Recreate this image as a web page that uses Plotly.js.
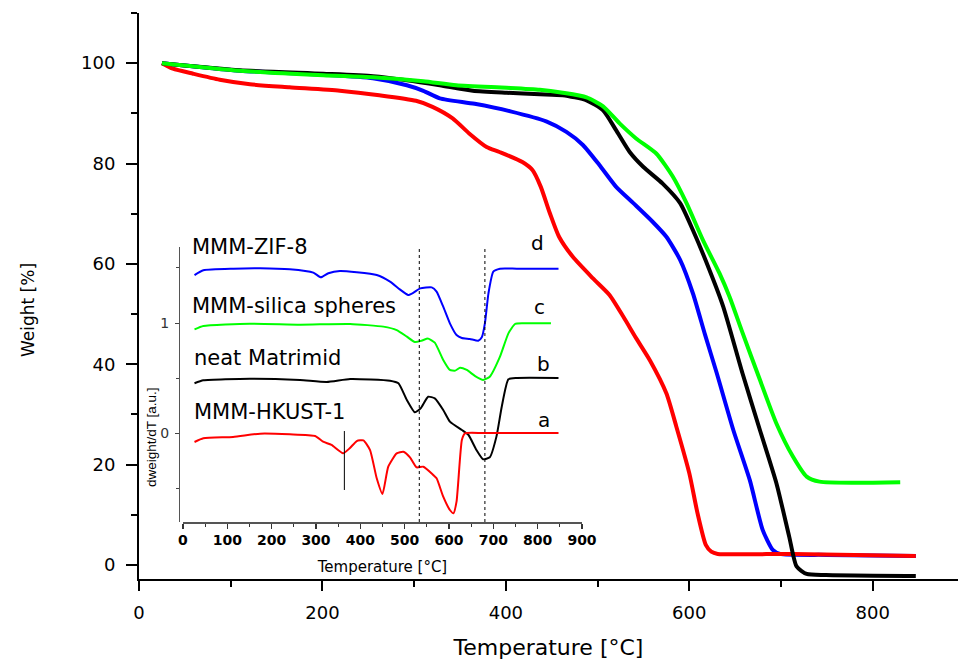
<!DOCTYPE html>
<html>
<head>
<meta charset="utf-8">
<script src="https://cdn.plot.ly/plotly-3.0.1.min.js"></script>
<style>html,body{margin:0;padding:0;background:#fff;}#chart{width:958px;height:669px;}</style>
</head>
<body>
<div id="chart"></div>
<script>
// ---------- Main TGA curves: temperature [°C] and weight [%] ----------
const redT   = [25, 37, 59, 88, 121, 164, 219, 262, 302, 320, 342, 360, 379, 393, 418, 429, 438, 448, 458, 473, 495, 513, 528, 542, 557, 575, 586, 600, 609, 618, 624, 631, 713, 847];
const redW   = [100, 98.9, 97.9, 96.7, 95.8, 95.2, 94.5, 93.6, 92.5, 91.3, 89, 86, 83.3, 82.3, 80.3, 78.7, 75.4, 70.1, 65.4, 61.4, 57.1, 53.8, 49.5, 45.2, 40.8, 34.2, 27.5, 18.3, 10.3, 4.0, 2.65, 2.2, 2.2, 1.8];
const blueT  = [25, 110, 201, 255, 292, 310, 328, 366, 405, 444, 466, 484, 502, 520, 539, 560, 575, 590, 604, 617, 630, 648, 666, 680, 691, 699, 750, 847];
const blueW  = [100, 98.5, 97.7, 97.0, 95.6, 94.5, 93.0, 91.9, 90.4, 88.4, 86.3, 83.7, 79.7, 75.4, 72.1, 68.4, 65.4, 60.8, 54.1, 46.0, 38.2, 26.9, 16.9, 7.0, 3.0, 2.2, 2.0, 1.8];
const blackT = [25, 110, 201, 255, 292, 328, 364, 401, 437, 462, 488, 506, 520, 535, 550, 571, 590, 604, 622, 637, 658, 677, 695, 709, 717, 728, 749, 847];
const blackW = [100, 98.6, 97.9, 97.4, 96.6, 95.6, 94.5, 94.1, 93.8, 93.6, 92.6, 90.6, 86.7, 82.3, 79.3, 76, 72.1, 66.7, 58.8, 51.5, 38.2, 26.9, 16.3, 5.6, -0.3, -1.8, -2.0, -2.2];
const greenT = [25, 110, 201, 255, 310, 346, 401, 437, 462, 488, 506, 524, 542, 564, 582, 597, 615, 633, 644, 657, 677, 695, 713, 728, 742, 830];
const greenW = [100, 98.5, 97.6, 97.2, 96.4, 95.6, 95.1, 94.7, 94.1, 93.2, 91.4, 88, 85, 82, 77.4, 72.1, 64.7, 58.1, 53.4, 46.8, 36.9, 28.2, 21.6, 17.6, 16.6, 16.5];

// ---------- Inset DTG curves (offset, a.u.) ----------
const dtgBlueT  = [26, 46, 114, 174, 241, 294, 311, 328, 354, 392, 437, 467, 489, 508, 520, 535, 561, 572, 587, 602, 617, 629, 647, 666, 674, 681, 689, 700, 715, 753, 847];
const dtgBlueV  = [1.436, 1.48, 1.494, 1.497, 1.488, 1.458, 1.415, 1.452, 1.473, 1.461, 1.436, 1.376, 1.306, 1.255, 1.276, 1.315, 1.324, 1.285, 1.148, 0.997, 0.891, 0.864, 0.855, 0.839, 0.87, 0.997, 1.27, 1.467, 1.494, 1.494, 1.494];
const dtgGreenT = [26, 46, 151, 264, 377, 452, 482, 505, 523, 538, 553, 568, 587, 602, 614, 625, 640, 659, 677, 692, 715, 734, 749, 768, 830];
const dtgGreenV = [0.942, 0.973, 0.994, 0.985, 0.991, 0.967, 0.936, 0.876, 0.827, 0.839, 0.858, 0.821, 0.664, 0.573, 0.567, 0.594, 0.573, 0.518, 0.482, 0.512, 0.694, 0.906, 0.991, 0.997, 0.997];
const dtgBlackT = [26, 46, 151, 264, 324, 377, 467, 486, 505, 523, 536, 553, 568, 587, 602, 629, 644, 662, 677, 692, 707, 719, 734, 753, 847];
const dtgBlackV = [0.452, 0.479, 0.494, 0.482, 0.464, 0.491, 0.476, 0.452, 0.30, 0.188, 0.224, 0.33, 0.315, 0.209, 0.103, 0.027, -0.018, -0.155, -0.239, -0.221, -0.033, 0.239, 0.488, 0.5, 0.5];
const dtgRedT   = [26, 46, 113, 174, 241, 298, 316, 335, 361, 376, 392, 407, 422, 437, 450, 463, 482, 497, 512, 527, 542, 561, 572, 587, 602, 610, 617, 629, 636, 677, 847];
const dtgRedV   = [-0.082, -0.048, -0.036, -0.006, -0.012, -0.027, -0.079, -0.109, -0.185, -0.139, -0.073, -0.067, -0.155, -0.412, -0.555, -0.306, -0.185, -0.17, -0.221, -0.312, -0.306, -0.367, -0.412, -0.579, -0.7, -0.73, -0.624, -0.064, -0.003, 0, 0];

// Inset markers and labels
const dottedMarkT = [533, 681];
const solidMarkT = 364, solidMarkV = [0.018, -0.518];
const insetNames   = ['MMM-ZIF-8', 'MMM-silica spheres', 'neat Matrimid', 'MMM-HKUST-1'];
const insetLetters = ['d', 'c', 'b', 'a'];

const RED = '#ff0000', BLUE = '#0000ff', GREEN = '#00ff00', BLACK = '#000000';

function main(x, y, c) {
  return {x: x, y: y, type: 'scatter', mode: 'lines', xaxis: 'x', yaxis: 'y',
          line: {color: c, width: 4, shape: 'spline', smoothing: 0.6}, hoverinfo: 'skip'};
}
function inset(x, y, c) {
  return {x: x, y: y, type: 'scatter', mode: 'lines', xaxis: 'x2', yaxis: 'y2',
          line: {color: c, width: 2, shape: 'spline', smoothing: 0.5}, hoverinfo: 'skip', cliponaxis: false};
}

const data = [
  main(blueT, blueW, BLUE),
  main(redT, redW, RED),
  main(blackT, blackW, BLACK),
  main(greenT, greenW, GREEN),
  inset(dtgBlueT, dtgBlueV, BLUE),
  inset(dtgGreenT, dtgGreenV, GREEN),
  inset(dtgBlackT, dtgBlackV, BLACK),
  inset(dtgRedT, dtgRedV, RED)
];

// label placement (paper fractions of the main plot area)
const nameX = [0.0623, 0.0623, 0.0647, 0.0647];
const nameY = [0.5866, 0.4823, 0.3905, 0.2951];
const letterX = [0.486, 0.4896, 0.4933, 0.4945];
const letterY = [0.5936, 0.4806, 0.3799, 0.2809];

const annotations = [];
insetNames.forEach((t, i) => annotations.push({
  text: t, xref: 'paper', yref: 'paper', x: nameX[i], y: nameY[i], xanchor: 'left', yanchor: 'middle',
  showarrow: false, font: {family: 'DejaVu Sans', size: 21, color: '#000'}
}));
insetLetters.forEach((t, i) => annotations.push({
  text: t, xref: 'paper', yref: 'paper', x: letterX[i], y: letterY[i], xanchor: 'center', yanchor: 'middle',
  showarrow: false, font: {family: 'DejaVu Sans', size: 20, color: '#000'}
}));
annotations.push({
  text: 'Weight [%]', xref: 'paper', yref: 'paper', x: -0.1355, y: 0.4753, textangle: -90,
  xanchor: 'center', yanchor: 'middle', showarrow: false, font: {family: 'DejaVu Sans', size: 17, color: '#000'}
});
annotations.push({
  text: 'dweight/dT [a.u.]', xref: 'paper', yref: 'paper', x: 0.0159, y: 0.2509, textangle: -90,
  xanchor: 'center', yanchor: 'middle', showarrow: false, font: {family: 'Liberation Sans', size: 13.5, color: '#000'}
});

const shapes = dottedMarkT.map(t => ({
  type: 'line', xref: 'x2', yref: 'y2', x0: t, x1: t, y0: -0.809, y1: 1.72,
  line: {color: '#000', width: 1, dash: 'dot'}
}));
shapes.push({type: 'line', xref: 'x2', yref: 'y2', x0: solidMarkT, x1: solidMarkT, y0: solidMarkV[0], y1: solidMarkV[1],
  line: {color: '#000', width: 1}});

const layout = {
  width: 958, height: 669,
  margin: {l: 139, r: 0, t: 13, b: 90},
  paper_bgcolor: '#ffffff', plot_bgcolor: 'rgba(0,0,0,0)',
  showlegend: false,
  font: {family: 'DejaVu Sans', color: '#000'},
  xaxis: {
    domain: [0, 1], range: [0, 893], anchor: 'y',
    showline: true, linewidth: 2, linecolor: '#000', mirror: false,
    ticks: 'outside', ticklen: 10, tickwidth: 2, tickcolor: '#000', tick0: 0, dtick: 200,
    minor: {dtick: 100, ticks: 'outside', ticklen: 6, tickwidth: 2, tickcolor: '#000'},
    showgrid: false, zeroline: false, ticklabelstandoff: 6,
    tickfont: {family: 'DejaVu Sans', size: 18, color: '#000'},
    title: {text: 'Temperature [°C]', font: {family: 'DejaVu Sans', size: 22, color: '#000'}, standoff: 18}
  },
  yaxis: {
    domain: [0, 1], range: [-2.8, 110], anchor: 'x',
    showline: true, linewidth: 2, linecolor: '#000', mirror: false,
    ticks: 'outside', ticklen: 11, tickwidth: 2, tickcolor: '#000', tick0: 0, dtick: 20,
    minor: {dtick: 10, ticks: 'outside', ticklen: 6, tickwidth: 2, tickcolor: '#000'},
    showgrid: false, zeroline: false, ticklabelstandoff: 7,
    tickfont: {family: 'DejaVu Sans', size: 18, color: '#000'}
  },
  xaxis2: {
    domain: [0.0537, 0.5409], range: [0, 900], anchor: 'y2',
    showline: true, linewidth: 1.5, linecolor: '#555',
    ticks: 'outside', ticklen: 5, tickwidth: 1.5, tickcolor: '#333', tick0: 0, dtick: 100,
    minor: {dtick: 50, ticks: 'outside', ticklen: 3, tickwidth: 1, tickcolor: '#333'},
    showgrid: false, zeroline: false,
    tickfont: {family: 'DejaVu Sans', size: 14, weight: 'bold', color: '#000'},
    title: {text: 'Temperature [°C]', font: {family: 'DejaVu Sans', size: 15, color: '#000'}, standoff: 14}
  },
  yaxis2: {
    domain: [0.1007, 0.5866], range: [-0.809, 1.691], anchor: 'free', position: 0.0488,
    showline: true, linewidth: 1.5, linecolor: '#555',
    ticks: 'outside', ticklen: 4, tickwidth: 1, tickcolor: '#444', tick0: 0, dtick: 1,
    minor: {dtick: 0.5, ticks: 'outside', ticklen: 3, tickwidth: 1, tickcolor: '#444'},
    showgrid: false, zeroline: false, ticklabelstandoff: 3,
    tickfont: {family: 'DejaVu Sans', size: 14, color: '#333'}
  },
  annotations: annotations,
  shapes: shapes
};

Plotly.newPlot('chart', data, layout, {staticPlot: true, displayModeBar: false});
</script>
</body>
</html>
